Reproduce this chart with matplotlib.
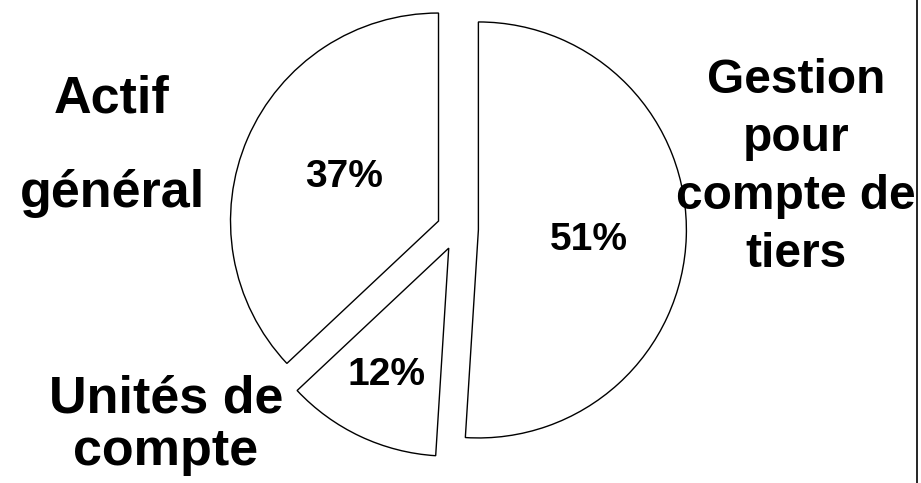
import matplotlib.pyplot as plt

# Data (clockwise from 12 o'clock)
labels = ["Gestion\npour\ncompte de\ntiers", "Unités de\ncompte", "Actif\ngénéral"]
values = [51, 12, 37]

# label positions: (x centre, last baseline y from top) in pixels
label_pos = [(796, 267), (166, 465), (112, 207)]
label_size = [34.5, 37.5, 37.5]
label_spacing = [1.37, 1.1, 2.2]
# percent positions: (x centre, baseline y from top)
pct_pos = [(589, 250), (386, 385), (344, 187)]

W, H = 921, 483
R = 208
plt.rcParams['font.family'] = ['Liberation Sans', 'DejaVu Sans']

fig = plt.figure(figsize=(W / 100, H / 100), dpi=100)
ax = fig.add_axes([0, 0, 1, 1])

ax.pie(values, startangle=90, counterclock=False, explode=[0.1 * R] * 3,
       center=(457.6, H - 229.3), radius=R,
       colors=['white'] * 3,
       wedgeprops=dict(edgecolor='black', linewidth=1.0))

ax.set_xlim(0, W)
ax.set_ylim(0, H)
ax.set_aspect('equal')
ax.axis('off')

for lab, (x, y), fs, ls in zip(labels, label_pos, label_size, label_spacing):
    ax.text(x, H - y, lab, ha='center', va='baseline', fontsize=fs,
            fontweight='bold', linespacing=ls)

for v, (x, y) in zip(values, pct_pos):
    ax.text(x, H - y, f"{v}%", ha='center', va='baseline', fontsize=28,
            fontweight='bold')

# right frame border
ax.plot([917, 917], [0, H], color='black', linewidth=1.2)

fig.savefig('out.png', dpi=100)
